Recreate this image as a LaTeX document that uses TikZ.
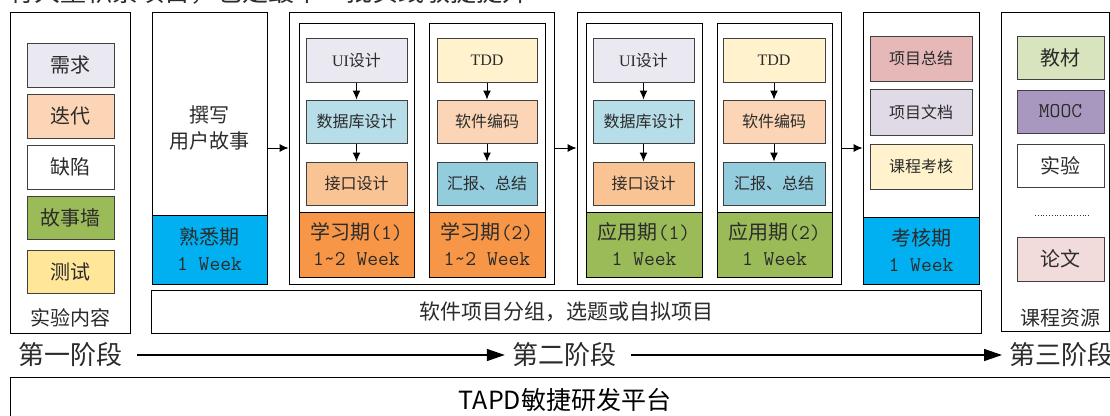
\documentclass[tikz,border=0pt]{standalone}
\usepackage{fontspec}
\setmainfont{Liberation Serif}
\newfontfamily\cjk{Noto Sans CJK SC}
\usetikzlibrary{arrows.meta}
\definecolor{cLav}{HTML}{EAE8F0}
\definecolor{cPeach}{HTML}{FBD5B5}
\definecolor{cGreen}{HTML}{9BBB59}
\definecolor{cYellow}{HTML}{FFE699}
\definecolor{cBlue}{HTML}{00B0F0}
\definecolor{cOrange}{HTML}{F79646}
\definecolor{cDb}{HTML}{B7DDE8}
\definecolor{cIf}{HTML}{FAC393}
\definecolor{cCream}{HTML}{FFF2CC}
\definecolor{cTeal}{HTML}{93CDDD}
\definecolor{cRose}{HTML}{E6B9B8}
\definecolor{cLilac}{HTML}{DFDAE6}
\definecolor{cLgreen}{HTML}{D7E4BD}
\definecolor{cPurple}{HTML}{A898C0}
\definecolor{cPink}{HTML}{F2DCDB}
\definecolor{cText}{HTML}{2B2B2B}
\tikzset{
  outer/.style={draw=black, line width=0.9pt, inner sep=0pt, text=cText},
  box/.style={draw=black!75, line width=1pt, inner sep=0pt, text=cText},
  fs/.style={font=\fontsize{16}{19}\selectfont\cjk},
  fm/.style={font=\fontsize{20}{26}\selectfont\cjk},
  fl/.style={font=\fontsize{21}{25}\selectfont\cjk},
  fx/.style={font=\fontsize{26}{30}\selectfont\cjk},
  arr/.style={-{Latex[length=9pt,width=8pt]}, line width=1pt, black},
  bigarr/.style={-{Triangle[length=18pt,width=12pt]}, line width=1.4pt, black, shorten <=15pt, shorten >=7pt},
}
\newcommand\bx[7]{\node[#6, minimum width={#4pt-#2pt}, minimum height={#5pt-#3pt}] (#1) at ({(#2+#4)/2},{(#3+#5)/2}) {#7};}
\newcommand\mo[1]{{\ttfamily\fontsize{21}{26}\selectfont #1}}
\newcommand\wk[1]{\mo{#1 Week}}
\begin{document}
\begin{tikzpicture}[x=1pt,y=-1pt]
\useasboundingbox (0,0) rectangle (1110,415);
\clip (0,0) rectangle (1110,415);
\fill[white] (0,0) rectangle (1110,415);
% clipped top text
\node[anchor=base west, inner sep=0pt, fx, text=cText] (toptext) at (8,1.5) {有大量积累项目，也是最早一批实践敏捷提升};
% left column
\bx{left}{10}{12}{130}{333}{outer}{}
\bx{xq}{27}{43}{114}{87}{box,fm,fill=cLav}{需求}
\bx{dd}{27}{94}{114}{138}{box,fm,fill=cPeach}{迭代}
\bx{qx}{27}{145}{114}{189}{box,fm,fill=white}{缺陷}
\bx{gsq}{27}{196}{114}{239}{box,fm,fill=cGreen}{故事墙}
\bx{cs}{27}{250}{114}{293}{box,fm,fill=cYellow}{测试}
\node[fm, text=cText] (lefttitle) at (70,318) {实验内容};
% familiar period
\bx{shu}{152}{12}{267}{284}{outer}{}
\bx{shuP}{152}{215}{267}{284}{outer,fill=cBlue,fm,align=center}{熟悉期\\\wk{1}}
\node[fm, align=center, text=cText] (shuTxt) at (209.5,128) {撰写\\用户故事};
% learning container
\bx{learn}{289}{12}{554}{284}{outer}{}
\bx{l1}{299}{23}{414}{277}{outer}{}
\bx{l1p}{299}{212}{414}{277}{outer,fill=cOrange,fm,align=center}{学习期\mo{(1)}\\\mo{1\textasciitilde2 Week}}
\bx{l1u}{306}{38}{407}{82}{box,fs,fill=cLav}{{\rmfamily UI}设计}
\bx{l1d}{306}{100}{407}{143}{box,fs,fill=cDb}{数据库设计}
\bx{l1i}{306}{162}{407}{205}{box,fs,fill=cIf}{接口设计}
\bx{l2}{429}{23}{545}{277}{outer}{}
\bx{l2p}{429}{212}{545}{277}{outer,fill=cOrange,fm,align=center}{学习期\mo{(2)}\\\mo{1\textasciitilde2 Week}}
\bx{l2t}{437}{38}{537}{82}{box,fs,fill=cCream}{{\rmfamily TDD}}
\bx{l2c}{437}{100}{537}{143}{box,fs,fill=cPeach}{软件编码}
\bx{l2r}{437}{162}{537}{205}{box,fs,fill=cTeal}{汇报、总结}
% application container
\bx{app}{577}{12}{841}{284}{outer}{}
\bx{a1}{586}{23}{702}{277}{outer}{}
\bx{a1p}{586}{212}{702}{277}{outer,fill=cGreen,fm,align=center}{应用期\mo{(1)}\\\wk{1}}
\bx{a1u}{593}{38}{694}{82}{box,fs,fill=cLav}{{\rmfamily UI}设计}
\bx{a1d}{593}{100}{694}{143}{box,fs,fill=cDb}{数据库设计}
\bx{a1i}{593}{162}{694}{205}{box,fs,fill=cIf}{接口设计}
\bx{a2}{717}{23}{832}{277}{outer}{}
\bx{a2p}{717}{212}{832}{277}{outer,fill=cGreen,fm,align=center}{应用期\mo{(2)}\\\wk{1}}
\bx{a2t}{723}{38}{825}{82}{box,fs,fill=cCream}{{\rmfamily TDD}}
\bx{a2c}{723}{100}{825}{143}{box,fs,fill=cPeach}{软件编码}
\bx{a2r}{723}{162}{825}{205}{box,fs,fill=cTeal}{汇报、总结}
% assessment
\bx{kao}{863}{12}{979}{284}{outer}{}
\bx{kaoP}{863}{217}{979}{284}{outer,fill=cBlue,fm,align=center}{考核期\\\wk{1}}
\bx{k1}{870}{36}{972}{81}{box,fs,fill=cRose}{项目总结}
\bx{k2}{870}{89}{972}{135}{box,fs,fill=cLilac}{项目文档}
\bx{k3}{870}{144}{972}{189}{box,fs,fill=cCream}{课程考核}
% resources
\bx{res}{1001}{12}{1109}{331}{outer}{}
\bx{r1}{1017}{36}{1104}{79}{box,fm,fill=cLgreen}{教材}
\bx{r2}{1017}{90}{1104}{133}{box,fm,fill=cPurple}{\mo{MOOC}}
\bx{r3}{1017}{144}{1104}{187}{box,fm,fill=white}{实验}
\bx{r4}{1017}{237}{1104}{281}{box,fm,fill=cPink}{论文}
\coordinate (dotA) at (1035,215);
\coordinate (dotB) at (1089,215);
\draw[dotted, line width=0.8pt, black!80] (dotA) -- (dotB);
\node[fm, text=cText] (restitle) at (1060,318) {课程资源};
% project bar
\bx{proj}{151}{290}{981}{333}{outer,fl}{软件项目分组，选题或自拟项目}
% phases
\node[fx, inner sep=0pt, text=cText] (p1) at (70,355) {第一阶段};
\node[fx, inner sep=0pt, text=cText] (p2) at (564,355) {第二阶段};
\node[fx, inner sep=0pt, text=cText, anchor=west] (p3) at (1009,355) {第三阶段};
\draw[bigarr] (p1.east) -- (p2.west);
\draw[bigarr] (p2.east) -- (p3.west);
% platform
\bx{tapd}{10}{377}{1140}{450}{outer}{}
\node[font=\fontsize{25}{30}\selectfont\cjk, text=black] (tapdTxt) at (565,400) {TAPD敏捷研发平台};
% arrows
\draw[arr] (shu.east) -- (learn.west);
\draw[arr] (learn.east) -- (app.west);
\draw[arr] (app.east) -- (kao.west);
\draw[arr] (l1u) -- (l1d);
\draw[arr] (l1d) -- (l1i);
\draw[arr] (l2t) -- (l2c);
\draw[arr] (l2c) -- (l2r);
\draw[arr] (a1u) -- (a1d);
\draw[arr] (a1d) -- (a1i);
\draw[arr] (a2t) -- (a2c);
\draw[arr] (a2c) -- (a2r);
\end{tikzpicture}
\end{document}
